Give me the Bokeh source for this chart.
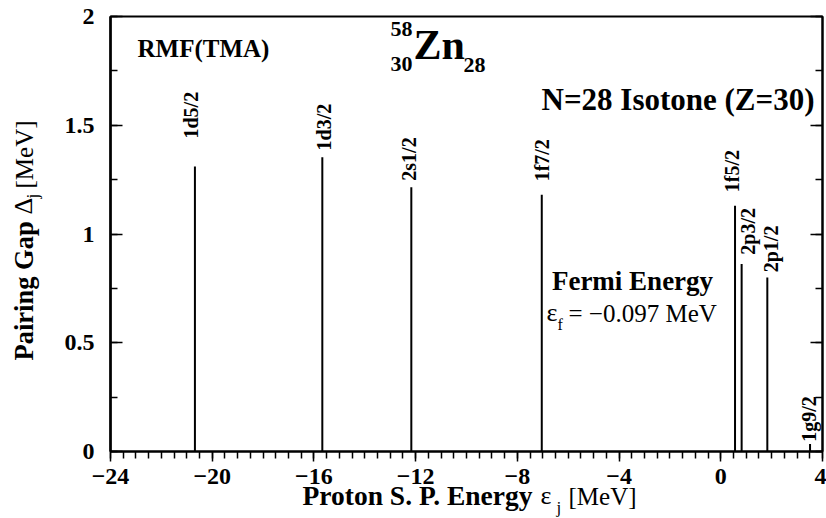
import math
from bokeh.plotting import figure
from bokeh.layouts import row, column
from bokeh.models import Range1d, LinearAxis, SingleIntervalTicker, Label, ColumnDataSource
from bokeh.core.properties import value
from bokeh.embed import file_html
from bokeh.resources import INLINE

# ---------------- data ----------------
levels = ["1d5/2", "1d3/2", "2s1/2", "1f7/2", "1f5/2", "2p3/2", "2p1/2", "1g9/2"]
energies = [-20.68, -15.67, -12.17, -7.04, 0.56, 0.82, 1.83, 3.51]     # MeV
gaps = [1.31, 1.353, 1.215, 1.18, 1.13, 0.862, 0.80, 0.035]            # MeV
label_bottom = [1.439, 1.384, 1.245, 1.242, 1.192, 0.905, 0.824, 0.045]  # label start (data y)
label_dx = [-4, 2, -2, 0, -3, 6, 4, -1]                                  # px shift of labels

x_ticks = [-24, -20, -16, -12, -8, -4, 0, 4]
x_tick_labels = ["\u221224", "\u221220", "\u221216", "\u221212", "\u22128", "\u22124", "0", "4"]
y_ticks = [0, 0.5, 1, 1.5, 2]
y_tick_labels = ["0", "0.5", "1", "1.5", "2"]

fermi_energy = "\u22120.097"

# ---------------- layout ----------------
W, H = 826, 518
LW = 48          # width of the y-title strip
MH = 496         # height of the main plot
OV = 26          # overlap of the x-title strip with the main plot
FL, FR, FT, FB = 110, 822, 16, 451     # frame in page pixels
X0, X1, Y0, Y1 = -24, 4, 0, 2
FONT = "Liberation Serif"
K = 0.37         # baseline correction (em)


def X(px):
    return X0 + (px - FL) * (X1 - X0) / (FR - FL)


def Y(py):
    return Y0 + (FB - py) * (Y1 - Y0) / (FB - FT)


p = figure(width=W - LW, height=MH, x_range=Range1d(X0, X1), y_range=Range1d(Y0, Y1),
           output_backend="svg", toolbar_location=None,
           min_border_left=FL - LW, min_border_right=W - FR,
           min_border_top=FT, min_border_bottom=MH - FB)
p.xgrid.visible = False
p.ygrid.visible = False
p.outline_line_color = "black"
p.outline_line_width = 2
p.background_fill_color = "white"
p.border_fill_color = "white"

xa = p.xaxis[0]
xa.ticker = SingleIntervalTicker(interval=4, num_minor_ticks=8)
xa.major_label_overrides = {t: s for t, s in zip(x_ticks, x_tick_labels)}
xa.major_tick_in = 0
xa.major_tick_out = 10
xa.minor_tick_in = 0
xa.minor_tick_out = 7
xa.major_label_standoff = 7

ya = p.yaxis[0]
ya.ticker = SingleIntervalTicker(interval=0.5, num_minor_ticks=2)
ya.major_label_overrides = {t: s for t, s in zip(y_ticks, y_tick_labels)}
ya.major_tick_in = 12
ya.major_tick_out = 0
ya.minor_tick_in = 7
ya.minor_tick_out = 0
ya.major_label_standoff = 16

for ax in (xa, ya):
    ax.axis_line_color = "black"
    ax.axis_line_width = 2
    ax.major_tick_line_color = "black"
    ax.minor_tick_line_color = "black"
    ax.major_tick_line_width = 1.5
    ax.minor_tick_line_width = 1.5
    ax.major_label_text_font = FONT
    ax.major_label_text_font_style = "bold"
    ax.major_label_text_font_size = "24px"
    ax.major_label_text_color = "black"
ya.axis_line_width = 2.5

ra = LinearAxis(ticker=SingleIntervalTicker(interval=0.5, num_minor_ticks=2),
                major_tick_in=12, major_tick_out=0, minor_tick_in=7, minor_tick_out=0,
                major_label_text_font_size="1px", major_label_text_color=None,
                major_label_standoff=0,
                axis_line_width=2, major_tick_line_width=1.5, minor_tick_line_width=1.5)
p.add_layout(ra, "right")

# ---------------- levels ----------------
src = ColumnDataSource(dict(x=energies, y0=[0] * len(energies), y1=gaps,
                            ly=label_bottom, dx=label_dx, text=levels))
p.segment(x0="x", y0="y0", x1="x", y1="y1", source=src, line_color="black", line_width=2)
p.text(x="x", y="ly", text="text", source=src, angle=math.pi / 2, x_offset="dx",
       text_font=value(FONT), text_font_style="bold", text_font_size="20px",
       text_align="left", text_baseline="alphabetic", text_color="black")


def lab(px, py, text, size, bold=True, align="left"):
    """Label inside the main plot; (px, py) = baseline point in page pixels."""
    p.add_layout(Label(x=X(px), y=Y(py - K * size), text=text, text_font=FONT,
                       text_font_style="bold" if bold else "normal",
                       text_font_size=f"{size}px", text_align=align,
                       text_baseline="alphabetic", text_color="black"))


lab(137, 57, "RMF(TMA)", 25)
lab(412, 37, "58", 22, align="right")
lab(412, 72, "30", 22, align="right")
lab(413, 60, "Zn", 42)
lab(463, 73, "28", 22)
lab(814, 110, "N=28 Isotone (Z=30)", 31, align="right")

lab(632, 290, "Fermi Energy", 27, align="center")
lab(546, 322, "\u03b5", 26, bold=False)
lab(557, 330, "f", 16, bold=False)
lab(568, 322, "= " + fermi_energy + " MeV", 25, bold=False)


def strip(width, height, xr, yr):
    f = figure(width=width, height=height, x_range=Range1d(*xr), y_range=Range1d(*yr),
               output_backend="svg", toolbar_location=None, x_axis_type=None, y_axis_type=None,
               min_border=0, min_border_left=0, min_border_right=0,
               min_border_top=0, min_border_bottom=0)
    f.outline_line_color = None
    f.xgrid.visible = False
    f.ygrid.visible = False
    f.background_fill_color = None
    f.border_fill_color = None
    return f


def stxt(f, x, y, text, size, bold=True, angle=0.0):
    f.text(x=[x], y=[y], text=[text], angle=angle, text_font=value(FONT),
           text_font_style="bold" if bold else "normal", text_font_size=f"{size}px",
           text_align="left", text_baseline="alphabetic", text_color="black")


# x-axis title strip: page coordinates, placed under (and slightly over) the main plot
SH = H - MH + OV
bt = strip(W, SH, (0, W), (H, H - SH))
bt.margin = (-OV, 0, 0, 0)
stxt(bt, 302, 505 - K * 27.5, "Proton S. P. Energy", 27.5)
stxt(bt, 540, 505 - K * 26, "\u03b5", 26, bold=False)
stxt(bt, 556, 513 - K * 17, "j", 17, bold=False)
stxt(bt, 568, 505 - K * 25, "[MeV]", 25, bold=False)

# y-axis title strip: its frame is aligned with the main frame (page y 16..451)
lt = strip(LW, MH, (0, LW), (FB, FT))
A = math.pi / 2
stxt(lt, 33 - K * 26.5, 360, "Pairing Gap", 26.5, angle=A)
stxt(lt, 33 - K * 26, 214, "\u0394", 26, bold=False, angle=A)
stxt(lt, 38.5 - K * 17, 198, "j", 17, bold=False, angle=A)
stxt(lt, 33 - K * 25, 188, "[MeV]", 25, bold=False, angle=A)

layout = column(row(lt, p, spacing=0), bt, spacing=0)
open("out.html", "w").write(file_html(layout, INLINE))
